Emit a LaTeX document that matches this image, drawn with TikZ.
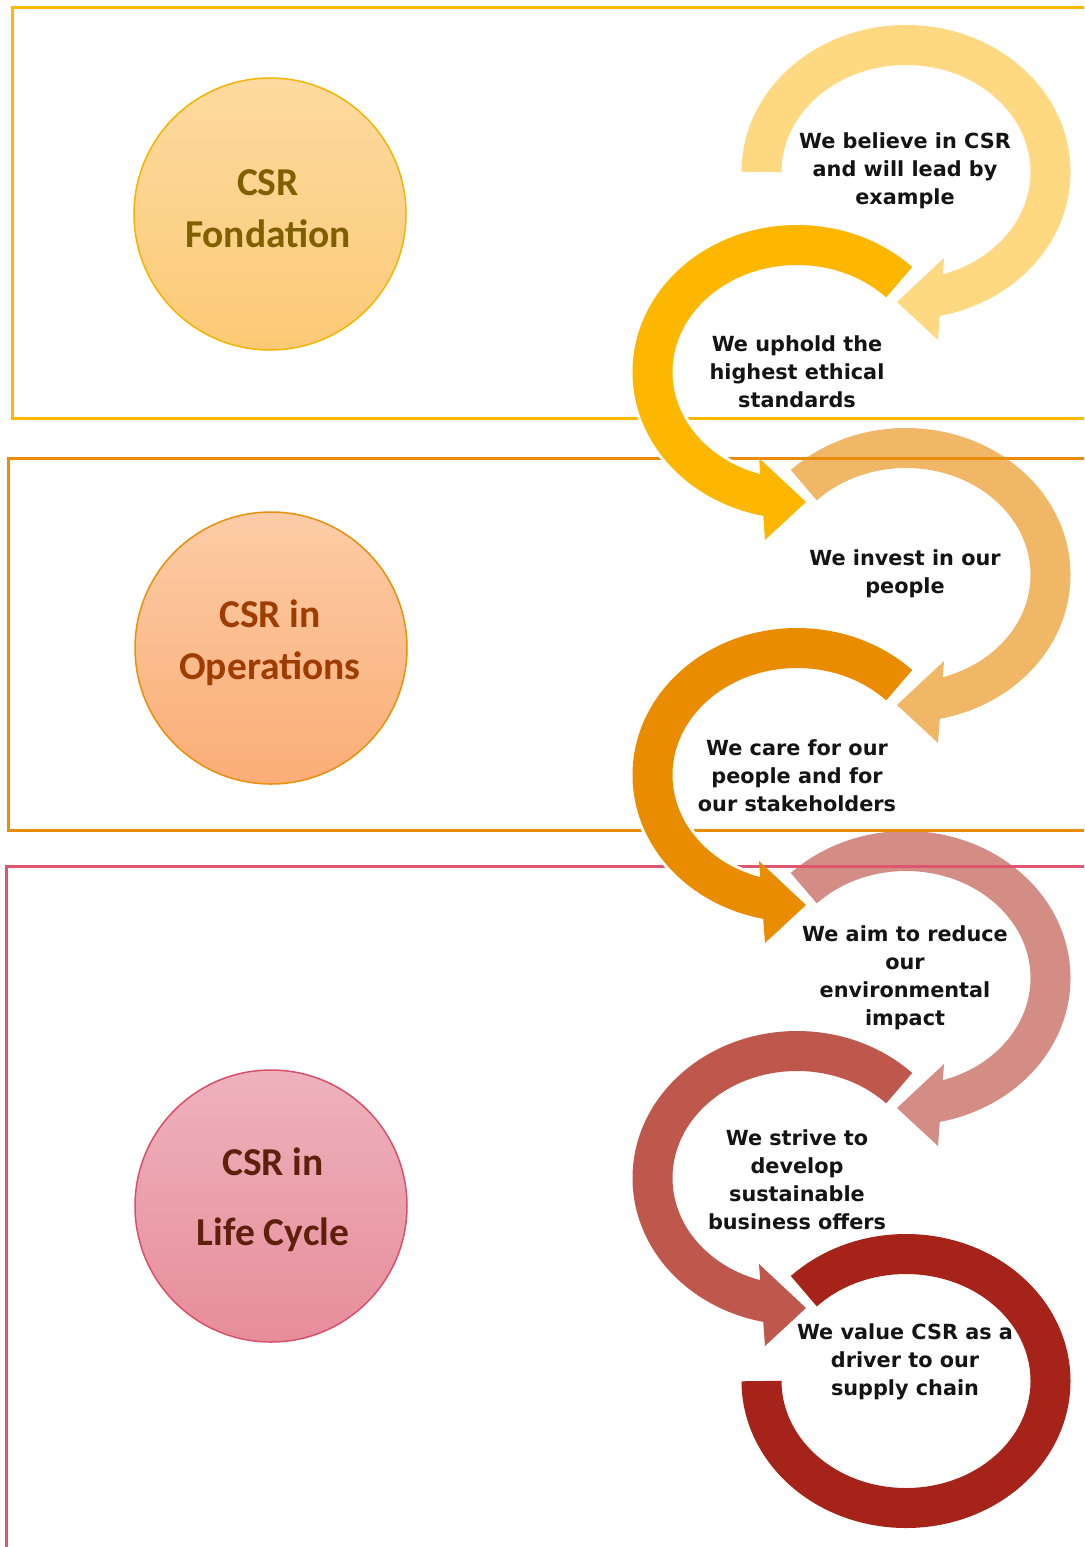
\documentclass[tikz,border=0pt]{standalone}
\usepackage{fontspec}
\newfontfamily\arcfont{DejaVu Sans}
\newfontfamily\circfont{Carlito}
\definecolor{boxA}{HTML}{FFB700}
\definecolor{boxB}{HTML}{E88C0A}
\definecolor{boxC}{HTML}{DF5570}
\definecolor{arcA}{HTML}{FED982}
\definecolor{arcB}{HTML}{FDB700}
\definecolor{arcC}{HTML}{F0B866}
\definecolor{arcD}{HTML}{EA8C00}
\definecolor{arcE}{HTML}{D48D85}
\definecolor{arcF}{HTML}{BF584C}
\definecolor{arcG}{HTML}{A52318}
\definecolor{cAtop}{HTML}{FDDAA0}
\definecolor{cAbot}{HTML}{FCCA76}
\definecolor{cAline}{HTML}{F5B400}
\definecolor{cBtop}{HTML}{FCCCA6}
\definecolor{cBbot}{HTML}{FBAD76}
\definecolor{cBline}{HTML}{E8900A}
\definecolor{cCtop}{HTML}{EEB2BC}
\definecolor{cCbot}{HTML}{E78D9A}
\definecolor{cCline}{HTML}{D9506A}
\definecolor{txtA}{HTML}{7F6000}
\definecolor{txtB}{HTML}{9E3C02}
\definecolor{txtC}{HTML}{5E200C}
\tikzset{
  boxline/.style={line width=3pt},
  arctext/.style={font=\arcfont\bfseries\fontsize{20.8}{28}\selectfont, align=center, text=black!92, inner sep=0pt},
  circtext/.style={font=\circfont\bfseries\fontsize{39.5}{52}\selectfont, align=center, inner sep=0pt},
  csrcircle/.style={circle, minimum size=272pt, inner sep=0pt, line width=1.5pt},
  ringwhite/.style={white, line width=46pt},
}
\newcommand\RArrowShape[4]{%
  \begin{scope}[shift={(#1,#2)}]
    \draw[ringwhite] (#3:144.5pt and 127pt) arc[start angle=#3, end angle=-78, x radius=144.5pt, y radius=127pt];
    \fill[#4] (38,-86) -- (-9,-130) -- (32,-168) -- cycle;
    \draw[#4, line width=40pt] (#3:144.5pt and 127pt) arc[start angle=#3, end angle=-80, x radius=144.5pt, y radius=127pt];
  \end{scope}}
\newcommand\LArrowShape[4]{%
  \begin{scope}[shift={(#1,#2)}]
    \draw[ringwhite] (#3:144.5pt and 127pt) arc[start angle=#3, end angle=258, x radius=144.5pt, y radius=127pt];
    \fill[#4] (-38,-86) -- (9,-130) -- (-32,-168) -- cycle;
    \draw[#4, line width=40pt] (#3:144.5pt and 127pt) arc[start angle=#3, end angle=260, x radius=144.5pt, y radius=127pt];
  \end{scope}}
\begin{document}
\begin{tikzpicture}[x=1pt, y=1pt]
\useasboundingbox (0,0) rectangle (1084,-1547);
\fill[white] (0,0) rectangle (1084,-1547);
\clip (0,0) rectangle (1084,-1547);
% light arcs (right side)
\RArrowShape{906}{-172}{180}{arcA}
\RArrowShape{906}{-575}{135}{arcC}
\RArrowShape{906}{-978}{135}{arcE}
\begin{scope}[shift={(906,-1381)}]
  \draw[ringwhite] (135:144.5pt and 127pt) arc[start angle=135, end angle=-180, x radius=144.5pt, y radius=127pt];
  \draw[arcG, line width=40pt] (135:144.5pt and 127pt) arc[start angle=135, end angle=-180, x radius=144.5pt, y radius=127pt];
\end{scope}
% section frames
\draw[boxA, boxline] (1095,-7) -- (12,-7) -- (12,-418) -- (1095,-418);
\draw[boxB, boxline] (1095,-458) -- (8,-458) -- (8,-830) -- (1095,-830);
\draw[boxC, boxline] (1095,-866) -- (6,-866) -- (6,-1560);
% dark arcs (left side)
\LArrowShape{797}{-372}{45}{arcB}
\LArrowShape{797}{-775}{45}{arcD}
\LArrowShape{797}{-1178}{45}{arcF}
% circles
\node[csrcircle, draw=cAline, top color=cAtop, bottom color=cAbot] (c1) at (270,-214) {};
\node[csrcircle, draw=cBline, top color=cBtop, bottom color=cBbot] (c2) at (271,-648) {};
\node[csrcircle, draw=cCline, top color=cCtop, bottom color=cCbot] (c3) at (271,-1206) {};
\node[circtext, text=txtA] (t1) at (268,-209) {CSR\\Fondation};
\node[circtext, text=txtB] (t2) at (270,-643) {CSR in\\Operations};
\node[circtext, text=txtC, font=\circfont\bfseries\fontsize{39.5}{70}\selectfont] (t3) at (273,-1200) {CSR in\\Life Cycle};
% arc texts
\node[arctext] (a1) at (905,-171) {We believe in CSR\\and will lead by\\example};
\node[arctext] (a2) at (797,-372) {We uphold the\\highest ethical\\standards};
\node[arctext] (a3) at (905,-574) {We invest in our\\people};
\node[arctext] (a4) at (797,-776) {We care for our\\people and for\\our stakeholders};
\node[arctext] (a5) at (905,-978) {We aim to reduce\\our\\environmental\\impact};
\node[arctext] (a6) at (797,-1180) {We strive to\\develop\\sustainable\\business offers};
\node[arctext] (a7) at (905,-1362) {We value CSR as a\\driver to our\\supply chain};
\end{tikzpicture}
\end{document}
